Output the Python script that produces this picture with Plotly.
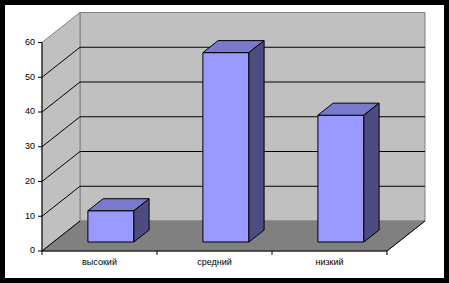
import plotly.graph_objects as go

categories = ["высокий", "средний", "низкий"]
values = [9, 54.5, 36.5]
y_ticks = [0, 10, 20, 30, 40, 50, 60]
y_max = 60

W, H = 449, 283
M = 5
# pixel geometry helpers (px per unit)
PX_X = 115.0
PX_Y = 3.475
X0_PX, Y0_PX = 42, 251
DX = 38 / PX_X          # depth offset in x units
DY = 30 / PX_Y          # depth offset in y units
BAR_W = 0.4
D_FRONT, D_BACK = 0.3, 0.7

x_range = [(M - X0_PX) / PX_X, (W - M - X0_PX) / PX_X]
y_range = [(Y0_PX - (H - M)) / PX_Y, (Y0_PX - M) / PX_Y]

n = len(categories)
fig = go.Figure()

def poly(xs, ys, fill, line="black", lw=1):
    fig.add_trace(go.Scatter(x=xs + [xs[0]], y=ys + [ys[0]], mode="lines",
                             fill="toself", fillcolor=fill,
                             line=dict(color=line, width=lw),
                             hoverinfo="skip", showlegend=False))

def seg(xs, ys, color="black", lw=1):
    fig.add_trace(go.Scatter(x=xs, y=ys, mode="lines",
                             line=dict(color=color, width=lw),
                             hoverinfo="skip", showlegend=False))

# walls
poly([DX, n + DX, n + DX, DX], [DY, DY, y_max + DY, y_max + DY], "#C0C0C0", "#808080")
poly([0, DX, DX, 0], [0, DY, y_max + DY, y_max], "#C0C0C0", "#808080")
poly([0, n, n + DX, DX], [0, 0, DY, DY], "#808080", "#808080")
# floor edges
seg([0, DX], [0, DY])
seg([n, n + DX], [0, DY])

# gridlines
for v in y_ticks[1:-1]:
    seg([0, DX, n + DX], [v, v + DY, v + DY])

# axes
seg([0, 0], [0, y_max])
seg([0, n], [0, 0])
for v in y_ticks:
    seg([-4 / PX_X, 0], [v, v])
for i in range(n + 1):
    seg([i, i], [0, -4 / PX_Y])

# bars
for i, v in enumerate(values):
    xl = i + 0.5 - BAR_W / 2
    xr = xl + BAR_W
    fx, fy = D_FRONT * DX, D_FRONT * DY
    bx, by = D_BACK * DX, D_BACK * DY
    poly([xl + fx, xr + fx, xr + fx, xl + fx], [fy, fy, fy + v, fy + v], "#9999FF")
    poly([xl + fx, xr + fx, xr + bx, xl + bx], [fy + v, fy + v, by + v, by + v], "#7A7ACC")
    poly([xr + fx, xr + bx, xr + bx, xr + fx], [fy + v, by + v, by, fy], "#4C4C80")

# tick labels
fig.add_trace(go.Scatter(x=[-7 / PX_X] * len(y_ticks), y=y_ticks, mode="text",
                         text=[str(t) for t in y_ticks], textposition="middle left",
                         textfont=dict(family="Liberation Sans", size=9, color="black"),
                         hoverinfo="skip", showlegend=False))
fig.add_trace(go.Scatter(x=[i + 0.5 for i in range(n)], y=[-12 / PX_Y] * n, mode="text",
                         text=categories, textposition="middle center",
                         textfont=dict(family="Liberation Sans", size=9, color="black"),
                         hoverinfo="skip", showlegend=False))

fig.update_layout(
    width=W, height=H,
    margin=dict(l=M, r=M, t=M, b=M, pad=0),
    paper_bgcolor="black", plot_bgcolor="white",
    xaxis=dict(range=x_range, visible=False, fixedrange=True),
    yaxis=dict(range=y_range, visible=False, fixedrange=True),
    showlegend=False,
)
fig.write_html("out.html")
